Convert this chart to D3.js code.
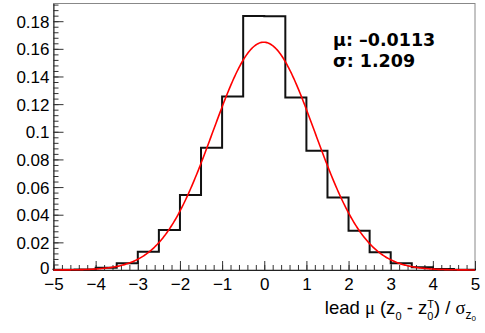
<!DOCTYPE html>
<html>
<head>
<meta charset="utf-8">
<script src="https://cdn.jsdelivr.net/npm/d3@7"></script>
<style>
  body { margin: 0; background: #fff; }
  svg { display: block; }
  .tick text { font-family: "Liberation Sans", Arial, sans-serif; font-size: 17px; fill: #000; }
</style>
</head>
<body>
<div id="chart"></div>
<script>
// histogram bin edges and contents (normalised)
const binEdges = [-5, -4.5, -4, -3.5, -3, -2.5, -2, -1.5, -1, -0.5, 0, 0.5, 1, 1.5, 2, 2.5, 3, 3.5, 4, 4.5, 5];
const binValues = [0.0001, 0.0003, 0.0017, 0.0048, 0.0132, 0.0289, 0.0542, 0.0884, 0.1255, 0.1838,
                   0.1836, 0.1248, 0.0863, 0.0525, 0.0284, 0.0128, 0.0048, 0.0019, 0.0007, 0.0002];

// gaussian fit parameters
const fitMean = -0.0113;
const fitSigma = 1.209;
const fitAmp = 0.1648;

const xTicks = [-5, -4, -3, -2, -1, 0, 1, 2, 3, 4, 5];
const yTicks = [0, 0.02, 0.04, 0.06, 0.08, 0.1, 0.12, 0.14, 0.16, 0.18];
const yTickLabels = ["0", "0.02", "0.04", "0.06", "0.08", "0.1", "0.12", "0.14", "0.16", "0.18"];
const statsLines = ["μ: \u20130.0113", "σ: 1.209"];

const W = 485, H = 333;
const frame = { left: 53.5, right: 475, top: 3.5, bottom: 270 };

const svg = d3.select("#chart").append("svg")
    .attr("width", W)
    .attr("height", H);

const x = d3.scaleLinear().domain([-5, 5]).range([frame.left, frame.right]);
const y = d3.scaleLinear().domain([0, 0.1928]).range([frame.bottom, frame.top]);

// frame
svg.append("rect")
    .attr("x", frame.left).attr("y", frame.top)
    .attr("width", frame.right - frame.left).attr("height", frame.bottom - frame.top)
    .attr("fill", "none")
    .attr("stroke", "#888")
    .attr("stroke-width", 1);

// minor ticks
const xMinor = d3.range(-5, 5.001, 0.2).map(v => +v.toFixed(2));
svg.append("g")
    .attr("transform", `translate(0,${frame.bottom})`)
    .call(d3.axisBottom(x).tickValues(xMinor).tickSizeInner(-5).tickSizeOuter(0).tickFormat(""))
    .call(g => g.select(".domain").remove())
    .selectAll("line").attr("stroke", "#333");

const yMinor = d3.range(0, 0.1921, 0.004).map(v => +v.toFixed(3));
svg.append("g")
    .attr("transform", `translate(${frame.left},0)`)
    .call(d3.axisLeft(y).tickValues(yMinor).tickSizeInner(-5).tickSizeOuter(0).tickFormat(""))
    .call(g => g.select(".domain").remove())
    .selectAll("line").attr("stroke", "#333");

// major ticks + labels
const xAxis = svg.append("g")
    .attr("transform", `translate(0,${frame.bottom})`)
    .call(d3.axisBottom(x).tickValues(xTicks).tickSizeInner(-9).tickSizeOuter(0));
xAxis.select(".domain").attr("stroke", "#222");
xAxis.selectAll("line").attr("stroke", "#333");
xAxis.selectAll("text").attr("dy", "0.78em").attr("y", 7);

const yAxis = svg.append("g")
    .attr("transform", `translate(${frame.left},0)`)
    .call(d3.axisLeft(y).tickValues(yTicks).tickSizeInner(-10).tickSizeOuter(0)
        .tickFormat((d, i) => yTickLabels[i]));
yAxis.select(".domain").attr("stroke", "#222");
yAxis.selectAll("line").attr("stroke", "#333");
yAxis.selectAll("text").attr("x", -4).attr("dy", "0.36em");
// nudge the zero label up so it clears the x labels
yAxis.selectAll(".tick").filter(d => d === 0).select("text").attr("dy", "0.2em");

// histogram outline
const steps = [[binEdges[0], 0]];
binValues.forEach((v, i) => {
    steps.push([binEdges[i], v]);
    steps.push([binEdges[i + 1], v]);
});
steps.push([binEdges[binEdges.length - 1], 0]);

svg.append("path")
    .datum(steps)
    .attr("fill", "none")
    .attr("stroke", "#111")
    .attr("stroke-width", 2)
    .attr("d", d3.line().x(d => x(d[0])).y(d => y(d[1])));

// gaussian fit curve
const fitX = d3.range(-5, 5.0001, 0.02);
svg.append("path")
    .datum(fitX)
    .attr("fill", "none")
    .attr("stroke", "#f00")
    .attr("stroke-width", 1.6)
    .attr("d", d3.line()
        .x(d => x(d))
        .y(d => y(fitAmp * Math.exp(-0.5 * Math.pow((d - fitMean) / fitSigma, 2)))));

// stats box text
svg.append("g").selectAll("text")
    .data(statsLines)
    .join("text")
    .attr("x", 333)
    .attr("y", (d, i) => 46 + i * 21)
    .attr("font-family", "DejaVu Sans, sans-serif")
    .attr("font-weight", "bold")
    .attr("font-size", 17.5)
    .text(d => d);

// x axis title
const title = svg.append("text")
    .attr("x", 476)
    .attr("y", 314)
    .attr("text-anchor", "end")
    .attr("font-family", "Liberation Sans, Arial, sans-serif")
    .attr("font-size", 18.5)
    .attr("fill", "#000");
title.append("tspan").text("lead ");
title.append("tspan").attr("font-family", "Liberation Serif, serif").text("μ");
title.append("tspan").text(" (z");
title.append("tspan").attr("font-size", 11).attr("dy", 6).text("0");
title.append("tspan").attr("dy", -6).text(" - z");
title.append("tspan").attr("font-size", 11).attr("dy", 6).text("0");
title.append("tspan").attr("font-size", 11).attr("dx", -6.1).attr("dy", -12).text("T");
title.append("tspan").attr("dy", 6).text(") / ");
title.append("tspan").attr("font-family", "Liberation Serif, serif").text("σ");
title.append("tspan").attr("font-size", 12).attr("dy", 5).text("z");
title.append("tspan").attr("font-size", 8).attr("dy", 2).text("0");
</script>
</body>
</html>
